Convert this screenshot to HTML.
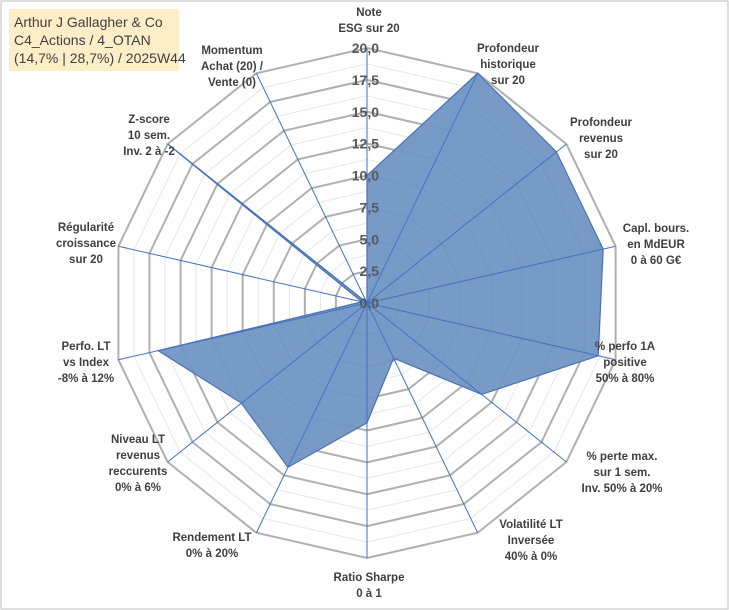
<!DOCTYPE html>
<html><head><meta charset="utf-8"><style>
body{margin:0;background:#fff;}
svg{display:block;font-family:"Liberation Sans",sans-serif;}
.lbl{font-size:11.5px;font-weight:bold;fill:#404040;text-anchor:middle;}
.tick{font-size:14px;font-weight:bold;fill:#595959;text-anchor:end;}
</style></head><body>
<svg id="chart" width="729" height="610" viewBox="0 0 729 610">
<rect x="1" y="1" width="727" height="608" fill="#fff" stroke="#bfbfbf"/>
<g id="grid"></g><g id="series"></g><g id="axes"></g><g id="ticks"></g><g id="labels"></g>
<rect x="9" y="9" width="170" height="62" fill="#fdeec8"/>
<text x="14" y="27" font-size="14" fill="#404040">Arthur J Gallagher &amp; Co</text>
<text x="14" y="45" font-size="14" fill="#404040">C4_Actions / 4_OTAN</text>
<text x="14" y="63" font-size="14" fill="#404040">(14,7% | 28,7%) / 2025W44</text>
</svg>
<script>
const categories=[["Note","ESG sur 20"],["Profondeur","historique","sur 20"],["Profondeur","revenus","sur 20"],["Capl. bours.","en MdEUR","0 à 60 G€"],["% perfo 1A","positive","50% à 80%"],["% perte max.","sur 1 sem.","Inv. 50% à 20%"],["Volatilité LT","Inversée","40% à 0%"],["Ratio Sharpe","0 à 1"],["Rendement LT","0% à 20%"],["Niveau LT","revenus","reccurents","0% à 6%"],["Perfo. LT","vs Index","-8% à 12%"],["Régularité","croissance","sur 20"],["Z-score","10 sem.","Inv. 2 à -2"],["Momentum","Achat (20) /","Vente (0)"]];
const values=[10,20,19,19,18.6,11.5,4.8,9.4,14.3,12.6,16.8,0.4,20,0];
const tickLabels=["0,0","2,5","5,0","7,5","10,0","12,5","15,0","17,5","20,0"];
const maxV=20;
// label centre positions (layout only)
const labelAnchors=[[369,20],[508,64],[601,138],[656,244],[625,362],[622,472],[531,540],[369,585],[212,545],[138,463],[86,362],[86,243],[149,135],[232,66]];
const cx=367,cy=303,R=255,N=categories.length;
const NS="http://www.w3.org/2000/svg";
function ang(i){return i*2*Math.PI/N;}
function pt(i,v){const r=v/maxV*R;return [cx+r*Math.sin(ang(i)),cy-r*Math.cos(ang(i))];}
function mk(t,a,p){const e=document.createElementNS(NS,t);for(const k in a)e.setAttribute(k,a[k]);p.appendChild(e);return e;}
const grid=document.getElementById('grid');
for(let k=1;k<=16;k++){const v=k*maxV/16;const pts=[];for(let i=0;i<N;i++)pts.push(pt(i,v).join(','));
const major=k%2==0;
const e=mk('polygon',{points:pts.join(' '),fill:'none',stroke:major?'#b0b0b0':'#e6e6e6','stroke-width':major?2:1},grid);

}
const sp=values.map((v,i)=>pt(i,v).join(',')).join(' ');
const poly=mk('polygon',{points:sp,fill:'#7096c3','fill-opacity':0.95,stroke:'#4a72b0','stroke-width':1.2},document.getElementById('series'));


const axes=document.getElementById('axes');
for(let i=0;i<N;i++){const p=pt(i,maxV);const l=mk('line',{x1:cx,y1:cy,x2:p[0],y2:p[1],stroke:'#4472c4','stroke-width':1},axes);

}
mk('circle',{cx:cx,cy:cy,r:3,fill:'#4472c4'},axes);
const ticks=document.getElementById('ticks');
tickLabels.forEach((t,k)=>{const e=mk('text',{x:cx+12,y:cy-k*R/8+5,class:'tick'},ticks);e.textContent=t;

});
const labels=document.getElementById('labels');
categories.forEach((lines,i)=>{const x=labelAnchors[i][0];let y=labelAnchors[i][1];
const h=(lines.length-1)*16;y=y-h/2+4;
const g=mk('text',{class:'lbl',x:x,y:y},labels);


lines.forEach((s,j)=>{const ts=mk('tspan',{x:x,dy:j==0?0:16},g);ts.textContent=s;});});
</script>
</body></html>
